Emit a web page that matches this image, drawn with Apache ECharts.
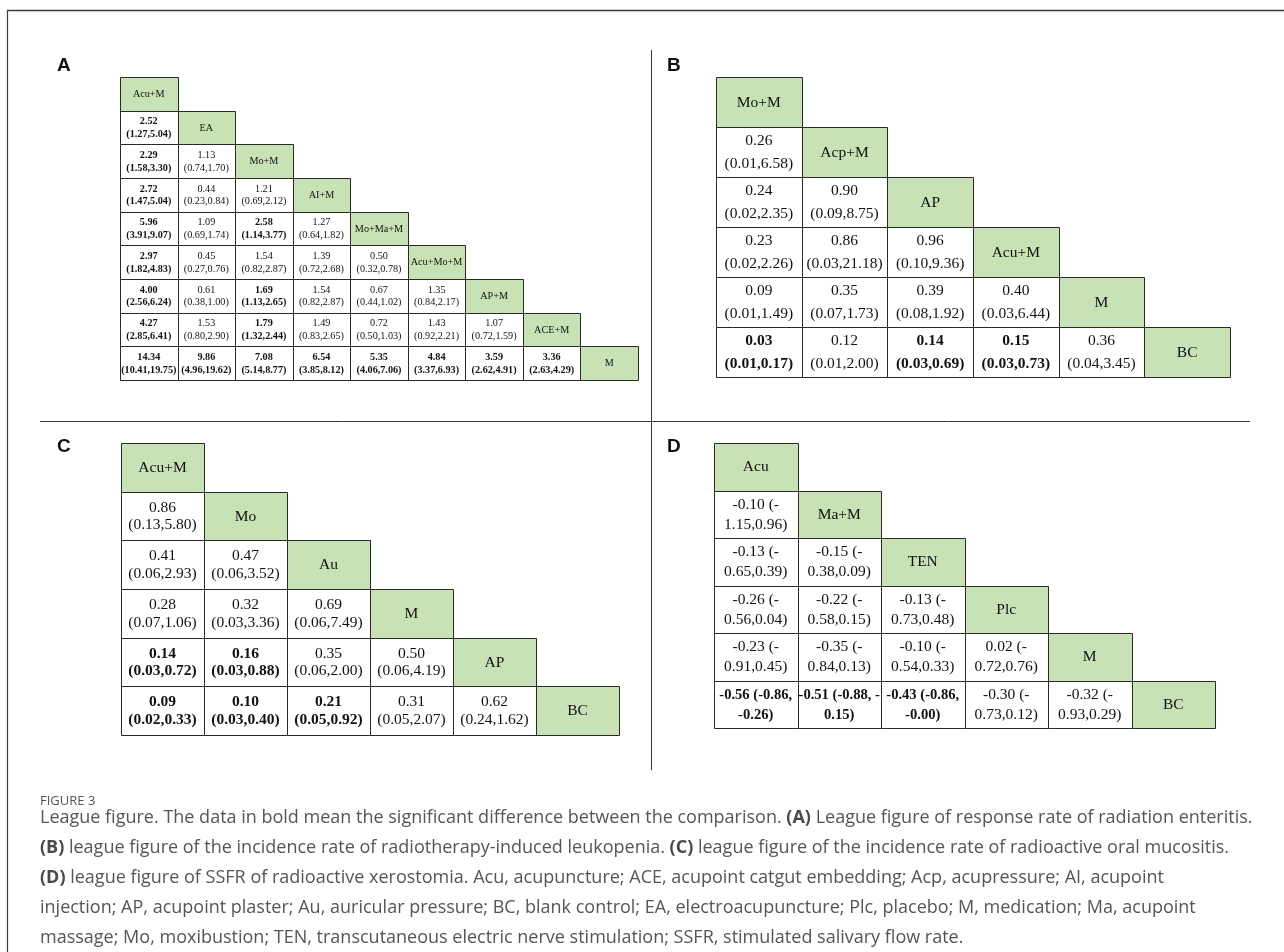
<!DOCTYPE html>
<html>
<head>
<meta charset="utf-8">
<script src="https://cdn.jsdelivr.net/npm/echarts@6/dist/echarts.min.js"></script>
<style>
html,body{margin:0;padding:0;background:#fff;}
#chart{width:1284px;height:952px;}
</style>
</head>
<body>
<div id="chart"></div>
<script>
// ---------------- Panel A: response rate of radiation enteritis ----------------
const aNames = ['Acu+M','EA','Mo+M','AI+M','Mo+Ma+M','Acu+Mo+M','AP+M','ACE+M','M'];
const aEst = [[],[2.52],[2.29,1.13],[2.72,0.44,1.21],[5.96,1.09,2.58,1.27],[2.97,0.45,1.54,1.39,0.50],
  [4.00,0.61,1.69,1.54,0.67,1.35],[4.27,1.53,1.79,1.49,0.72,1.43,1.07],[14.34,9.86,7.08,6.54,5.35,4.84,3.59,3.36]];
const aLo = [[],[1.27],[1.58,0.74],[1.47,0.23,0.69],[3.91,0.69,1.14,0.64],[1.82,0.27,0.82,0.72,0.32],
  [2.56,0.38,1.13,0.82,0.44,0.84],[2.85,0.80,1.32,0.83,0.50,0.92,0.72],[10.41,4.96,5.14,3.85,4.06,3.37,2.62,2.63]];
const aHi = [[],[5.04],[3.30,1.70],[5.04,0.84,2.12],[9.07,1.74,3.77,1.82],[4.83,0.76,2.87,2.68,0.78],
  [6.24,1.00,2.65,2.87,1.02,2.17],[6.41,2.90,2.44,2.65,1.03,2.21,1.59],[19.75,19.62,8.77,8.12,7.06,6.93,4.91,4.29]];
const aBold = [[],[1],[1,0],[1,0,0],[1,0,1,0],[1,0,0,0,0],[1,0,1,0,0,0],[1,0,1,0,0,0,0],[1,1,1,1,1,1,1,1]];

// ---------------- Panel B: radiotherapy-induced leukopenia ----------------
const bNames = ['Mo+M','Acp+M','AP','Acu+M','M','BC'];
const bEst = [[],[0.26],[0.24,0.90],[0.23,0.86,0.96],[0.09,0.35,0.39,0.40],[0.03,0.12,0.14,0.15,0.36]];
const bLo = [[],[0.01],[0.02,0.09],[0.02,0.03,0.10],[0.01,0.07,0.08,0.03],[0.01,0.01,0.03,0.03,0.04]];
const bHi = [[],[6.58],[2.35,8.75],[2.26,21.18,9.36],[1.49,1.73,1.92,6.44],[0.17,2.00,0.69,0.73,3.45]];
const bBold = [[],[0],[0,0],[0,0,0],[0,0,0,0],[1,0,1,1,0]];

// ---------------- Panel C: radioactive oral mucositis ----------------
const cNames = ['Acu+M','Mo','Au','M','AP','BC'];
const cEst = [[],[0.86],[0.41,0.47],[0.28,0.32,0.69],[0.14,0.16,0.35,0.50],[0.09,0.10,0.21,0.31,0.62]];
const cLo = [[],[0.13],[0.06,0.06],[0.07,0.03,0.06],[0.03,0.03,0.06,0.06],[0.02,0.03,0.05,0.05,0.24]];
const cHi = [[],[5.80],[2.93,3.52],[1.06,3.36,7.49],[0.72,0.88,2.00,4.19],[0.33,0.40,0.92,2.07,1.62]];
const cBold = [[],[0],[0,0],[0,0,0],[1,1,0,0],[1,1,1,0,0]];

// ---------------- Panel D: SSFR of radioactive xerostomia ----------------
const dNames = ['Acu','Ma+M','TEN','Plc','M','BC'];
const dEst = [[],[-0.10],[-0.13,-0.15],[-0.26,-0.22,-0.13],[-0.23,-0.35,-0.10,0.02],[-0.56,-0.51,-0.43,-0.30,-0.32]];
const dLo = [[],[-1.15],[-0.65,-0.38],[-0.56,-0.58,-0.73],[-0.91,-0.84,-0.54,-0.72],[-0.86,-0.88,-0.86,-0.73,-0.93]];
const dHi = [[],[0.96],[0.39,0.09],[0.04,0.15,0.48],[0.45,0.13,0.33,0.76],[-0.26,-0.15,-0,0.12,0.29]];
const dBold = [[],[0],[0,0],[0,0,0],[0,0,0,0],[1,1,1,0,0]];
// how the original wraps each D cell: 'a' = after "(-", 'c' = after comma, 'h' = after ", -"
const dWrap = [[],['a'],['a','a'],['a','a','a'],['a','a','a','a'],['c','h','c','a','a']];

// ---------------- helpers ----------------
const f2 = v => Object.is(v, -0) ? '-0.00' : v.toFixed(2);
const fmtRatio = (e, l, h) => (i, j) => f2(e[i][j]) + '\n(' + f2(l[i][j]) + ',' + f2(h[i][j]) + ')';
const fmtD = (i, j) => {
  const e = f2(dEst[i][j]), l = dLo[i][j], h = dHi[i][j], w = dWrap[i][j];
  if (w === 'a') return e + ' (-\n' + f2(-l) + ',' + f2(h) + ')';
  if (w === 'h') return e + ' (' + f2(l) + ', -\n' + f2(-h) + ')';
  return e + ' (' + f2(l) + ',\n' + f2(h) + ')';
};
function buildCells(names, bold, fmt) {
  const cells = [];
  names.forEach((n, i) => cells.push({col: i, row: i, text: n, header: true, bold: 0}));
  for (let i = 1; i < names.length; i++)
    for (let j = 0; j < i; j++)
      cells.push({col: j, row: i, text: fmt(i, j), header: false, bold: bold[i][j]});
  return cells;
}
const SERIF = '"Liberation Serif","Times New Roman",serif';
const GREEN = '#c8e1b5';

const panels = [
  {names: aNames, cells: buildCells(aNames, aBold, fmtRatio(aEst, aLo, aHi)), fs: 10.2, bfs: 10.2, lh: 12.5, hfs: 10.2,
   grid: {left: 120, top: 77, width: 518, height: 303}},
  {names: bNames, cells: buildCells(bNames, bBold, fmtRatio(bEst, bLo, bHi)), fs: 15.5, bfs: 15.5, lh: 23, hfs: 15.5,
   grid: {left: 716, top: 77, width: 514, height: 300}},
  {names: cNames, cells: buildCells(cNames, cBold, fmtRatio(cEst, cLo, cHi)), fs: 15.5, bfs: 15.5, lh: 17.5, hfs: 15.5,
   grid: {left: 121, top: 443, width: 498, height: 292}},
  {names: dNames, cells: buildCells(dNames, dBold, fmtD), fs: 15.5, bfs: 14.6, lh: 20, hfs: 15.5,
   grid: {left: 714, top: 443, width: 501, height: 285}}
];

function makeRender(panel) {
  return function (params, api) {
    const c = panel.cells[params.dataIndex];
    const p = api.coord([api.value(0), api.value(1)]);
    const s = api.size([1, 1]);
    const x0 = Math.round(p[0] - s[0] / 2) + 0.5, y0 = Math.round(p[1] - s[1] / 2) + 0.5;
    const x1 = Math.round(p[0] + s[0] / 2) + 0.5, y1 = Math.round(p[1] + s[1] / 2) + 0.5;
    const fs = c.header ? panel.hfs : (c.bold ? panel.bfs : panel.fs);
    return {
      type: 'group',
      children: [
        {type: 'rect', shape: {x: x0, y: y0, width: x1 - x0, height: y1 - y0},
         style: {fill: c.header ? GREEN : '#ffffff', stroke: '#2a2a2a', lineWidth: 1}},
        {type: 'text', style: {text: c.text, x: p[0], y: p[1] + 0.5, align: 'center', verticalAlign: 'middle',
          font: (c.bold ? 'bold ' : '') + fs + 'px ' + SERIF, lineHeight: panel.lh, fill: '#111'}}
      ]
    };
  };
}

const chart = echarts.init(document.getElementById('chart'), null, {renderer: 'canvas'});

const grids = [], xAxes = [], yAxes = [], series = [];
panels.forEach((pn, k) => {
  grids.push(Object.assign({containLabel: false}, pn.grid));
  xAxes.push({type: 'category', gridIndex: k, data: pn.names, show: false});
  yAxes.push({type: 'category', gridIndex: k, data: pn.names, inverse: true, show: false});
  series.push({type: 'custom', xAxisIndex: k, yAxisIndex: k, renderItem: makeRender(pn),
    data: pn.cells.map(c => [c.col, c.row]), silent: true, animation: false, clip: false});
});

const CAP = '"Open Sans", Lato, sans-serif';
const capStyle = {font: '18px ' + CAP, fill: '#555555',
  rich: {b: {fontWeight: 'bold', fontSize: 18, fontFamily: CAP, fill: '#4a4a4a'}}};
const capLines = [
  'League figure. The data in bold mean the significant difference between the comparison. {b|(A)} League figure of response rate of radiation enteritis.',
  '{b|(B)} league figure of the incidence rate of radiotherapy-induced leukopenia. {b|(C)} league figure of the incidence rate of radioactive oral mucositis.',
  '{b|(D)} league figure of SSFR of radioactive xerostomia. Acu, acupuncture; ACE, acupoint catgut embedding; Acp, acupressure; AI, acupoint',
  'injection; AP, acupoint plaster; Au, auricular pressure; BC, blank control; EA, electroacupuncture; Plc, placebo; M, medication; Ma, acupoint',
  'massage; Mo, moxibustion; TEN, transcutaneous electric nerve stimulation; SSFR, stimulated salivary flow rate.'
];
const capY = [818, 848, 878, 908, 938];

const graphics = [
  {type: 'line', shape: {x1: 7, y1: 10.5, x2: 1284, y2: 10.5}, style: {stroke: '#3a3a3a', lineWidth: 1.5}},
  {type: 'line', shape: {x1: 7.5, y1: 10, x2: 7.5, y2: 952}, style: {stroke: '#3a3a3a', lineWidth: 1.2}},
  {type: 'line', shape: {x1: 651.5, y1: 50, x2: 651.5, y2: 770}, style: {stroke: '#333', lineWidth: 1}},
  {type: 'line', shape: {x1: 40, y1: 421.5, x2: 1250, y2: 421.5}, style: {stroke: '#333', lineWidth: 1}},
  {type: 'text', x: 57, y: 66, style: {text: 'A', font: 'bold 19px "Liberation Sans", Arial, sans-serif', fill: '#111', verticalAlign: 'middle'}},
  {type: 'text', x: 667, y: 66, style: {text: 'B', font: 'bold 19px "Liberation Sans", Arial, sans-serif', fill: '#111', verticalAlign: 'middle'}},
  {type: 'text', x: 57, y: 447, style: {text: 'C', font: 'bold 19px "Liberation Sans", Arial, sans-serif', fill: '#111', verticalAlign: 'middle'}},
  {type: 'text', x: 667, y: 447, style: {text: 'D', font: 'bold 19px "Liberation Sans", Arial, sans-serif', fill: '#111', verticalAlign: 'middle'}},
  {type: 'text', x: 40, y: 801, style: {text: 'FIGURE 3', font: '13px ' + CAP, fill: '#555555', verticalAlign: 'middle'}}
];
capLines.forEach((t, i) => graphics.push({type: 'text', x: 40, y: capY[i],
  style: Object.assign({}, capStyle, {text: t, verticalAlign: 'middle'})}));

chart.setOption({
  animation: false,
  backgroundColor: '#ffffff',
  grid: grids,
  xAxis: xAxes,
  yAxis: yAxes,
  series: series,
  graphic: {elements: graphics}
});
</script>
</body>
</html>
